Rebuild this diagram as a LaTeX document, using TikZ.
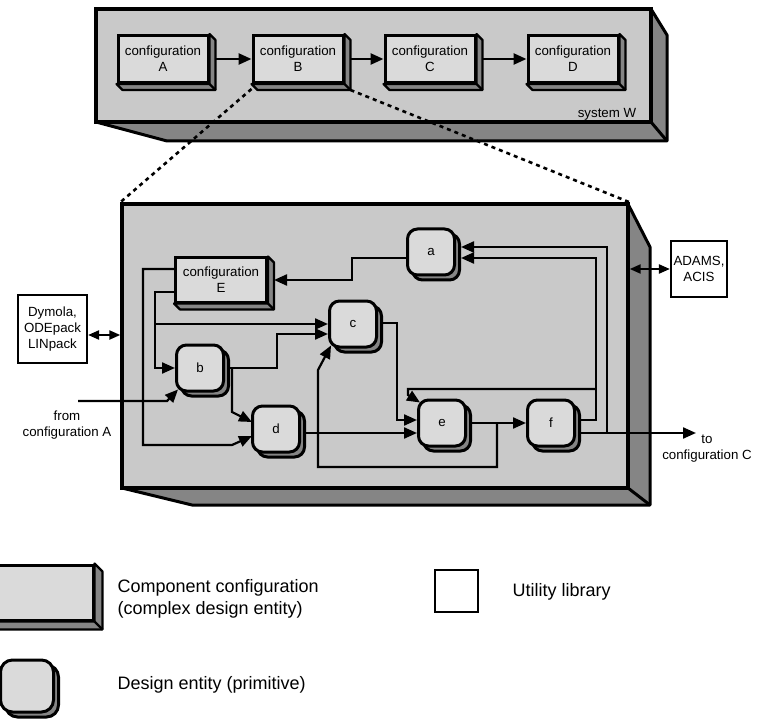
\documentclass[tikz,border=0pt]{standalone}
\usepackage{fontspec}
\setmainfont{Liberation Sans}
\usetikzlibrary{arrows.meta,calc}
\definecolor{facegray}{HTML}{C9C9C9}
\definecolor{boxgray}{HTML}{DADADA}
\definecolor{sidegray}{HTML}{858585}
\newcommand\extrude[2]{%
  \filldraw[side] (#1.north east) -- ++(#2,#2) -- ($(#1.south east)+(#2,#2)$) -- ($(#1.south west)+(#2,#2)$) -- (#1.south west) -- (#1.south east) -- cycle;
  \draw[side] (#1.south east) -- ++(#2,#2);
}
\begin{document}
\begin{tikzpicture}[x=1pt,y=-1pt,
  every node/.style={font=\fontsize{13.3}{16}\selectfont},
  conn/.style={line width=2.2pt, line join=miter},
  arr/.style={-{Triangle[length=13pt,width=11pt]}},
  darr/.style={{Triangle[length=11pt,width=9pt]}-{Triangle[length=11pt,width=9pt]}},
  prim/.style={draw=black, line width=3pt, fill=boxgray, rounded corners=10pt,
     minimum width=47pt, minimum height=46pt, inner sep=0pt,
     preaction={draw=black, fill=sidegray, line width=3pt, transform canvas={shift={(5pt,-5pt)}}}},
  cfg/.style={draw=black, line width=3pt, fill=boxgray, minimum width=90pt, minimum height=47pt,
     inner sep=0pt, align=center},
  side/.style={draw=black, line width=2.2pt, fill=sidegray, line join=round},
  util/.style={draw=black, line width=2.2pt, fill=white, align=center, inner sep=0pt},
  zoomline/.style={line width=2.6pt, dash pattern=on 4pt off 4pt},
  legendtext/.style={font=\fontsize{18}{22}\selectfont, align=left, anchor=west}
]
\useasboundingbox (0,0) rectangle (766,722);

% ---------- system W ----------
\filldraw[side, line width=3pt] (651,9) -- (667,35) -- (667,141) -- (167,141) -- (96,122) -- (651,122) -- cycle;
\draw[side, line width=3pt] (651,122) -- (667,141);
\node[draw=black, line width=3.4pt, fill=facegray, minimum width=555pt, minimum height=113pt, inner sep=0pt] (sysW) at (373.5,65.5) {};
\node (sysWlabel) at (607,114) {system W};

\node[cfg] (A) at (163,59) {configuration\\A};
\node[cfg] (B) at (298,59) {configuration\\B};
\node[cfg] (C) at (430,59) {configuration\\C};
\node[cfg] (D) at (573,59) {configuration\\D};
\extrude{A}{6}\extrude{B}{6}\extrude{C}{6}\extrude{D}{6}
\draw[conn,arr,line width=2.6pt] ($(A.east)+(6,0)$) -- (B.west);
\draw[conn,arr,line width=2.6pt] ($(B.east)+(6,0)$) -- (C.west);
\draw[conn,arr,line width=2.6pt] ($(C.east)+(6,0)$) -- (D.west);

% ---------- big box (configuration B detail) ----------
\filldraw[side, line width=3pt] (628,204) -- (650,247) -- (650,505) -- (192,505) -- (122,488) -- (628,488) -- cycle;
\draw[side, line width=3pt] (628,488) -- (650,505);
\node[draw=black, line width=3.4pt, fill=facegray, minimum width=506pt, minimum height=284pt, inner sep=0pt] (big) at (375,346) {};

\draw[zoomline] ($(B.south west)+(0,5)$) -- (big.north west);
\draw[zoomline] ($(B.south east)+(6,6)$) -- (big.north east);

\node[prim] (a) at (431,252) {a};
\node[cfg, minimum width=91pt, minimum height=44pt] (E) at (221,280) {configuration\\E};
\extrude{E}{6}
\node[prim] (b) at (200,368) {b};
\node[prim] (c) at (353,324) {c};
\node[prim] (d) at (276,429) {d};
\node[prim] (e) at (442,423) {e};
\node[prim] (f) at (551,423) {f};

% connectors
\draw[conn,arr] ($(a.west)+(0,6)$) -| (352,269) |- ($(E.east)+(6,0)$);
\draw[conn,arr] ($(f.east)+(4,-3)$) -| (596,340) |- ($(a.east)+(5,6)$);
\coordinate (loopj) at (596,389);
\draw[conn,arr] (loopj) -| (408,395) -- ($(e.north west)+(3,4)$);
\coordinate (toC) at (696,433);
\draw[conn,arr] ($(f.east)+(4,10)$) -- (toC);
\coordinate (outj) at (607,433);
\draw[conn,arr] (outj) |- ($(a.east)+(5,-5)$);
\draw[conn,arr] ($(c.east)+(4,-1)$) -| (397,370) |- ($(e.west)+(0,-3)$);
\draw[conn,arr] ($(d.east)+(4,4)$) -- ($(e.west)+(0,10)$);
\draw[conn,arr] ($(e.east)+(4,0)$) -- (f.west);
\coordinate (fbj) at (497,423);
\draw[conn,arr] (fbj) |- (318,467) -- (318,370) -- ($(c.south west)+(3,-3)$);
\draw[conn,arr] ($(E.west)+(0,12)$) -| (155,330) |- (b.west);
\coordinate (ecj) at (155,324);
\draw[conn,arr] (ecj) -- (c.west);
\draw[conn,arr] ($(E.west)+(0,-11)$) -| (143,400) |- (232,445) -- ($(d.west)+(1,7)$);
\draw[conn,arr] ($(b.east)+(4,0)$) -| (277,350) |- ($(c.west)+(0,10)$);
\draw[conn,arr] ($(b.east)+(7,0)$) -- ++(0,44) -- ($(d.west)+(1,-7)$);
\coordinate (fromA) at (78,401);
\draw[conn,arr] (fromA) -- (167,401) -- ($(b.south west)+(3,-3)$);

% utility libraries
\node[util, minimum width=69pt, minimum height=68pt] (dym) at (52.5,329) {Dymola,\\ODEpack\\LINpack};
\node[util, minimum width=56pt, minimum height=56pt] (adams) at (699,269) {ADAMS,\\ACIS};
\draw[conn,darr] ($(dym.east)+(0,6)$) -- ($(big.west)+(0,-11)$);
\draw[conn,darr] ($(big.east)+(0,-77)$) -- (adams.west);

\node[align=center] (fromAlabel) at (67,425.5) {from\\configuration A};
\node[align=center] (toClabel) at (707,449) {to\\configuration C};

% ---------- legend ----------
\node[cfg, minimum width=100pt, minimum height=55pt] (legcfg) at (43,592.5) {};
\extrude{legcfg}{8}
\node[legendtext] (legcfgtext) at (114,599) {Component configuration\\(complex design entity)};
\node[util, minimum width=43pt, minimum height=42pt] (legutil) at (456.5,591) {};
\node[legendtext] (legutiltext) at (509,592) {Utility library};
\node[prim, minimum width=53pt, minimum height=52pt, rounded corners=12pt] (legprim) at (27,686) {};
\node[legendtext] (legprimtext) at (114,685) {Design entity (primitive)};
\end{tikzpicture}
\end{document}
